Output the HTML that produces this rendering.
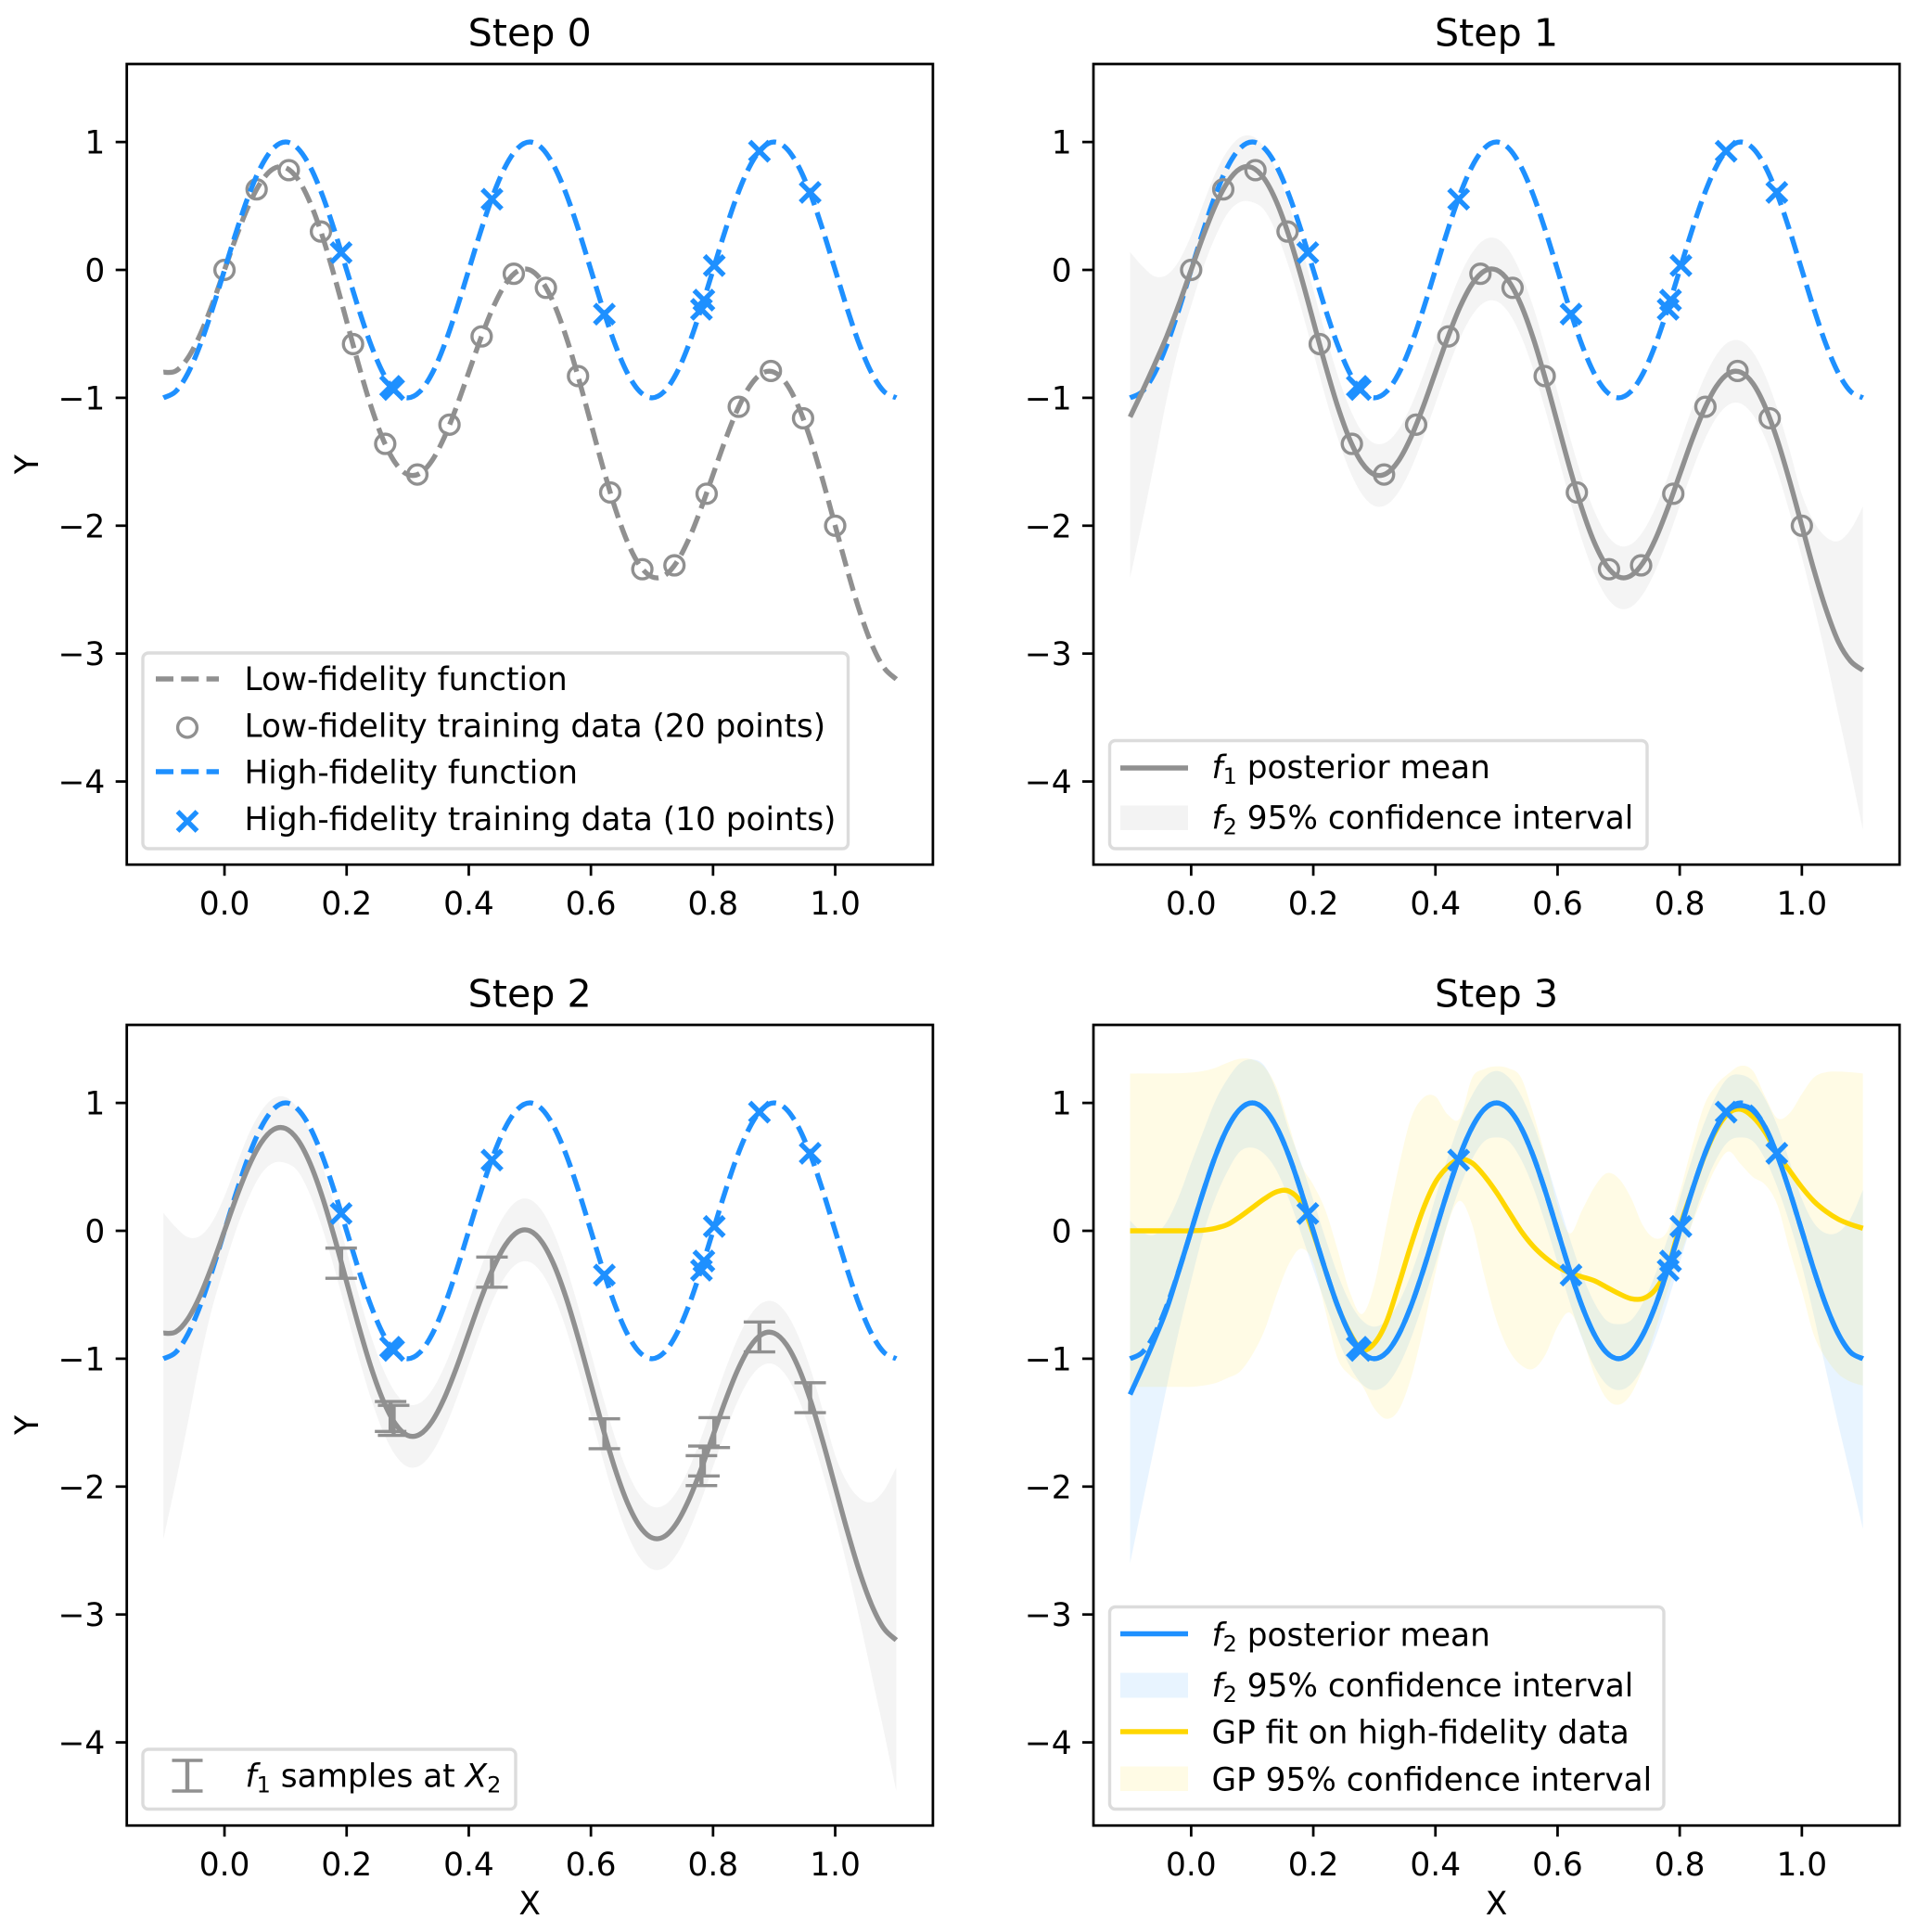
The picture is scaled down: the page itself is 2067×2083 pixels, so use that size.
<!DOCTYPE html>
<html lang="en">
<head>
<meta charset="utf-8">
<title>Multi-fidelity GP steps</title>
<style>
html,body{margin:0;padding:0;background:#fff;}
svg{display:block;}
text{font-family:"DejaVu Sans","Liberation Sans",sans-serif;fill:#000;}
.tick{font-size:34.4px;}
.title{font-size:41.2px;text-anchor:middle;}
.axis{font-size:34.4px;}
.leg{font-size:34.3px;}
.leg-box{fill:#fff;fill-opacity:.8;stroke:#dcdcdc;stroke-width:3.4;}
.it{font-style:italic;}
.sub{font-size:24px;}
</style>
</head>
<body>
<svg id="chart" xmlns="http://www.w3.org/2000/svg" width="2067" height="2083" viewBox="0 0 2067 2083">
  <rect width="2067" height="2083" fill="#fff"/>
  <g id="marks"></g>
  <g id="axes"></g>

  <text class="title" x="571.2" y="49.5">Step 0</text>
  <text class="title" x="1613.5" y="49.5">Step 1</text>
  <text class="title" x="571.2" y="1085.3">Step 2</text>
  <text class="title" x="1613.5" y="1085.3">Step 3</text>

  <text class="axis" transform="translate(41 500.6) rotate(-90)" text-anchor="middle">Y</text>
  <text class="axis" transform="translate(41 1536.4) rotate(-90)" text-anchor="middle">Y</text>
  <text class="axis" x="571.2" y="2064" text-anchor="middle">X</text>
  <text class="axis" x="1613.5" y="2064" text-anchor="middle">X</text>

  <g>
    <rect class="leg-box" x="154" y="704" width="760.5" height="211" rx="6"/>
    <line x1="168" x2="236" y1="732" y2="732" stroke="#909090" stroke-width="5.4" stroke-dasharray="19 8.3"/>
    <circle cx="202" cy="784.5" r="10.4" fill="none" stroke="#909090" stroke-width="3.4"/>
    <line x1="168" x2="236" y1="832" y2="832" stroke="#1e90ff" stroke-width="5.4" stroke-dasharray="19 8.3"/>
    <path d="M191.5 875L212.5 896M191.5 896L212.5 875" fill="none" stroke="#1e90ff" stroke-width="5.4"/>
    <text class="leg" x="263.5" y="744">Low-fidelity function</text>
    <text class="leg" x="263.5" y="794.5">Low-fidelity training data (20 points)</text>
    <text class="leg" x="263.5" y="844.5">High-fidelity function</text>
    <text class="leg" x="263.5" y="895">High-fidelity training data (10 points)</text>
  </g>

  <g>
    <rect class="leg-box" x="1196.5" y="798.5" width="579.5" height="116.5" rx="6"/>
    <line x1="1208" x2="1281" y1="828" y2="828" stroke="#909090" stroke-width="5.4"/>
    <rect x="1208" y="868.5" width="73" height="26.5" fill="#f3f3f3"/>
    <text class="leg" x="1306.5" y="839"><tspan class="it">f</tspan><tspan class="sub" dy="6">1</tspan><tspan dy="-6"> posterior mean</tspan></text>
    <text class="leg" x="1306.5" y="893.5"><tspan class="it">f</tspan><tspan class="sub" dy="6">2</tspan><tspan dy="-6"> 95% confidence interval</tspan></text>
  </g>

  <g>
    <rect class="leg-box" x="154" y="1886" width="402" height="64.5" rx="6"/>
    <path d="M185.5 1898H218.5M185.5 1931H218.5" stroke="#909090" stroke-width="3.4" fill="none"/>
    <line x1="202" x2="202" y1="1898" y2="1931" stroke="#909090" stroke-width="4.4"/>
    <text class="leg" x="264.5" y="1926.5"><tspan class="it">f</tspan><tspan class="sub" dy="6">1</tspan><tspan dy="-6"> samples at </tspan><tspan class="it">X</tspan><tspan class="sub" dy="6">2</tspan></text>
  </g>

  <g>
    <rect class="leg-box" x="1196.5" y="1732.5" width="597.5" height="218" rx="6"/>
    <line x1="1208" x2="1281" y1="1761.5" y2="1761.5" stroke="#1e90ff" stroke-width="5.4"/>
    <rect x="1208" y="1803.5" width="73" height="27" fill="#e8f4ff"/>
    <line x1="1208" x2="1281" y1="1867" y2="1867" stroke="#ffd700" stroke-width="5.4"/>
    <rect x="1208" y="1904.5" width="73" height="26.5" fill="#fffbe5"/>
    <text class="leg" x="1306.5" y="1774.5"><tspan class="it">f</tspan><tspan class="sub" dy="6">2</tspan><tspan dy="-6"> posterior mean</tspan></text>
    <text class="leg" x="1306.5" y="1829"><tspan class="it">f</tspan><tspan class="sub" dy="6">2</tspan><tspan dy="-6"> 95% confidence interval</tspan></text>
    <text class="leg" x="1306.5" y="1879.5">GP fit on high-fidelity data</text>
    <text class="leg" x="1306.5" y="1930.5">GP 95% confidence interval</text>
  </g>
</svg>

<script>
const xTicks = [0, 0.2, 0.4, 0.6, 0.8, 1.0];
const xTickLabels = ["0.0", "0.2", "0.4", "0.6", "0.8", "1.0"];
const yTicks = [1, 0, -1, -2, -3, -4];
const yTickLabels = ["1", "0", "\u22121", "\u22122", "\u22123", "\u22124"];

const gridX = [-0.10,-0.08,-0.06,-0.04,-0.02,0,0.02,0.04,0.06,0.08,0.10,0.12,0.14,0.16,0.18,0.20,0.22,0.24,0.26,0.28,0.30,0.32,0.34,0.36,0.38,0.40,0.42,0.44,0.46,0.48,0.50,0.52,0.54,0.56,0.58,0.60,0.62,0.64,0.66,0.68,0.70,0.72,0.74,0.76,0.78,0.80,0.82,0.84,0.86,0.88,0.90,0.92,0.94,0.96,0.98,1.00,1.02,1.04,1.06,1.08,1.10];

const highFidelity = [-1,-0.951,-0.809,-0.588,-0.309,0,0.309,0.588,0.809,0.951,1,0.951,0.809,0.588,0.309,0,-0.309,-0.588,-0.809,-0.951,-1,-0.951,-0.809,-0.588,-0.309,0,0.309,0.588,0.809,0.951,1,0.951,0.809,0.588,0.309,0,-0.309,-0.588,-0.809,-0.951,-1,-0.951,-0.809,-0.588,-0.309,0,0.309,0.588,0.809,0.951,1,0.951,0.809,0.588,0.309,0,-0.309,-0.588,-0.809,-0.951,-1];

const lowFidelity = [-0.8,-0.791,-0.689,-0.508,-0.269,0,0.269,0.508,0.689,0.791,0.8,0.711,0.529,0.268,-0.051,-0.4,-0.749,-1.068,-1.329,-1.511,-1.6,-1.591,-1.489,-1.308,-1.069,-0.8,-0.531,-0.292,-0.111,-0.009,0,-0.089,-0.271,-0.532,-0.851,-1.2,-1.549,-1.868,-2.129,-2.311,-2.4,-2.391,-2.289,-2.108,-1.869,-1.6,-1.331,-1.092,-0.911,-0.809,-0.8,-0.889,-1.071,-1.332,-1.651,-2,-2.349,-2.668,-2.929,-3.111,-3.2];

const step1Mean = [-1.15,-0.95,-0.74,-0.52,-0.27,0,0.269,0.508,0.689,0.791,0.8,0.711,0.529,0.268,-0.051,-0.4,-0.749,-1.068,-1.329,-1.511,-1.6,-1.591,-1.489,-1.308,-1.069,-0.8,-0.531,-0.292,-0.111,-0.009,0,-0.089,-0.271,-0.532,-0.851,-1.2,-1.549,-1.868,-2.129,-2.311,-2.4,-2.391,-2.289,-2.108,-1.869,-1.6,-1.331,-1.092,-0.911,-0.809,-0.8,-0.889,-1.071,-1.332,-1.651,-2,-2.35,-2.66,-2.91,-3.06,-3.13];

const lowBandUpper = [0.14,0.03,-0.05,-0.04,0.07,0.27,0.52,0.76,0.935,1.035,1.045,0.956,0.774,0.513,0.194,-0.155,-0.504,-0.823,-1.084,-1.266,-1.355,-1.346,-1.244,-1.063,-0.824,-0.555,-0.286,-0.047,0.134,0.236,0.245,0.156,-0.026,-0.287,-0.606,-0.955,-1.304,-1.623,-1.884,-2.066,-2.155,-2.146,-2.044,-1.863,-1.624,-1.355,-1.086,-0.847,-0.666,-0.564,-0.555,-0.644,-0.826,-1.087,-1.41,-1.755,-1.97,-2.09,-2.12,-2.03,-1.85];

const lowBandLower = [-2.41,-1.97,-1.5,-1.01,-0.6,-0.28,0.02,0.263,0.444,0.53,0.53,0.466,0.284,0.023,-0.296,-0.645,-0.994,-1.313,-1.574,-1.756,-1.845,-1.836,-1.734,-1.553,-1.314,-1.045,-0.776,-0.537,-0.356,-0.254,-0.245,-0.334,-0.516,-0.777,-1.096,-1.445,-1.794,-2.113,-2.374,-2.556,-2.645,-2.636,-2.534,-2.353,-2.114,-1.845,-1.576,-1.337,-1.156,-1.054,-1.045,-1.134,-1.316,-1.577,-1.896,-2.245,-2.63,-3.04,-3.48,-3.92,-4.38];

const f2Mean = [-1.28,-1.07,-0.85,-0.61,-0.31,0,0.309,0.588,0.809,0.951,1,0.951,0.809,0.588,0.309,0,-0.309,-0.588,-0.809,-0.951,-1,-0.951,-0.809,-0.588,-0.309,0,0.309,0.588,0.809,0.951,1,0.951,0.809,0.588,0.309,0,-0.309,-0.588,-0.809,-0.951,-1,-0.951,-0.809,-0.588,-0.309,0,0.309,0.588,0.809,0.945,0.98,0.94,0.809,0.588,0.309,0,-0.309,-0.588,-0.809,-0.951,-1];

const f2BandUpper = [0.08,-0.01,-0.03,0.07,0.27,0.53,0.78,1.02,1.19,1.31,1.34,1.29,1.09,0.79,0.53,0.24,-0.06,-0.34,-0.56,-0.7,-0.75,-0.7,-0.56,-0.34,-0.06,0.26,0.57,0.85,1.06,1.2,1.25,1.2,1.06,0.84,0.56,0.25,-0.06,-0.34,-0.56,-0.7,-0.73,-0.7,-0.56,-0.34,-0.06,0.25,0.56,0.84,1.06,1.2,1.22,1.17,1.03,0.82,0.54,0.25,0.06,-0.02,-0.01,0.1,0.32];

const f2BandLower = [-2.6,-2.14,-1.68,-1.22,-0.78,-0.39,-0.02,0.26,0.47,0.62,0.65,0.6,0.47,0.25,-0.02,-0.3,-0.57,-0.84,-1.06,-1.2,-1.245,-1.2,-1.06,-0.84,-0.56,-0.26,0.06,0.34,0.56,0.7,0.73,0.7,0.56,0.34,0.06,-0.25,-0.56,-0.84,-1.06,-1.2,-1.245,-1.2,-1.06,-0.84,-0.56,-0.25,0.06,0.34,0.56,0.7,0.73,0.7,0.56,0.34,0.06,-0.27,-0.67,-1.1,-1.52,-1.92,-2.33];

const gpMean = [0,0,0,0,0,0,0.005,0.02,0.05,0.11,0.18,0.25,0.305,0.31,0.22,-0.02,-0.31,-0.59,-0.8,-0.93,-0.88,-0.71,-0.42,-0.11,0.17,0.38,0.5,0.56,0.53,0.43,0.3,0.15,0,-0.12,-0.21,-0.28,-0.33,-0.36,-0.39,-0.44,-0.49,-0.53,-0.53,-0.46,-0.29,0.03,0.31,0.58,0.79,0.92,0.95,0.89,0.77,0.6,0.47,0.34,0.23,0.15,0.09,0.05,0.02];

const gpBandUpper = [1.229,1.23,1.23,1.23,1.232,1.237,1.25,1.275,1.315,1.345,1.34,1.28,1.12,0.83,0.52,0.36,0.16,-0.15,-0.48,-0.65,-0.42,0.05,0.5,0.88,1.04,1.05,0.91,0.88,1.195,1.265,1.286,1.27,1.2,0.92,0.58,0.2,-0.02,0.16,0.34,0.45,0.41,0.26,0.04,-0.06,0,0.3,0.66,0.98,1.14,1.23,1.29,1.25,1.05,0.88,0.92,1.07,1.2,1.24,1.245,1.24,1.23];

const gpBandLower = [-1.22,-1.22,-1.22,-1.22,-1.22,-1.22,-1.21,-1.19,-1.15,-1.1,-0.97,-0.78,-0.5,-0.26,-0.14,-0.25,-0.63,-1.0,-1.13,-1.21,-1.39,-1.47,-1.4,-1.15,-0.77,-0.33,0.05,0.234,0.05,-0.35,-0.7,-0.93,-1.05,-1.08,-0.97,-0.75,-0.64,-0.83,-1.12,-1.31,-1.36,-1.28,-1.07,-0.78,-0.47,-0.2,0.05,0.29,0.5,0.62,0.52,0.42,0.36,0.2,-0.15,-0.47,-0.82,-1.0,-1.12,-1.18,-1.21];

const lowDataX = [0,0.0526,0.1053,0.1579,0.2105,0.2632,0.3158,0.3684,0.4211,0.4737,0.5263,0.5789,0.6316,0.6842,0.7368,0.7895,0.8421,0.8947,0.9474,1];
const lowDataY = [0,0.63,0.78,0.3,-0.58,-1.36,-1.6,-1.21,-0.52,-0.03,-0.14,-0.83,-1.74,-2.34,-2.31,-1.75,-1.07,-0.79,-1.16,-2];

const highDataX = [0.191,0.272,0.277,0.438,0.622,0.781,0.785,0.802,0.876,0.959];
const highDataY = [0.135,-0.91,-0.935,0.553,-0.346,-0.308,-0.236,0.034,0.928,0.606];

const sampleY = [-0.253,-1.452,-1.482,-0.323,-1.587,-1.875,-1.8,-1.578,-0.83,-1.305];
const sampleErr = [0.118,0.117,0.117,0.118,0.117,0.117,0.117,0.117,0.117,0.117];

const NS = "http://www.w3.org/2000/svg";
const marksRoot = document.getElementById("marks");
const axesRoot = document.getElementById("axes");
const GRAY = "#909090", BLUE = "#1e90ff", GOLD = "#ffd700";

const panelW = 869.2, panelH = 863.2;
const panels = [
  {left:136.7, top:69,   key:"step-0"},
  {left:1179,  top:69,   key:"step-1"},
  {left:136.7, top:1105, key:"step-2"},
  {left:1179,  top:1105, key:"step-3"}
];
function xScale(p, v) { return p.left + (v + 0.16) / 1.32 * panelW; }
function yScale(p, v) { return p.top + (1.61 - v) / 6.26 * panelH; }

function make(tag, attrs, parent) {
  const node = document.createElementNS(NS, tag);
  for (const k in attrs) node.setAttribute(k, attrs[k]);
  parent.appendChild(node);
  return node;
}
function curveTo(pts) {
  let d = "";
  for (let i = 0; i < pts.length - 1; i++) {
    const p0 = pts[Math.max(i - 1, 0)], p1 = pts[i], p2 = pts[i + 1], p3 = pts[Math.min(i + 2, pts.length - 1)];
    const c1x = p1[0] + (p2[0] - p0[0]) / 6, c1y = p1[1] + (p2[1] - p0[1]) / 6;
    const c2x = p2[0] - (p3[0] - p1[0]) / 6, c2y = p2[1] - (p3[1] - p1[1]) / 6;
    d += "C" + c1x.toFixed(2) + " " + c1y.toFixed(2) + " " + c2x.toFixed(2) + " " + c2y.toFixed(2) + " " + p2[0].toFixed(2) + " " + p2[1].toFixed(2);
  }
  return d;
}
function toPts(p, xs, ys) { return xs.map((x, i) => [xScale(p, x), yScale(p, ys[i])]); }

function drawLine(p, g, xs, ys, color, dashed, name) {
  const pts = toPts(p, xs, ys);
  const line = make("path", {d: "M" + pts[0][0].toFixed(2) + " " + pts[0][1].toFixed(2) + curveTo(pts), fill: "none", stroke: color, "stroke-width": 5.4, "stroke-dasharray": dashed ? "19 8.3" : "none", "stroke-linejoin": "round"}, g);
  
  
}
function drawBand(p, g, xs, upper, lower, color, name) {
  const up = toPts(p, xs, upper);
  const lo = toPts(p, xs, lower).reverse();
  const d = "M" + up[0][0].toFixed(2) + " " + up[0][1].toFixed(2) + curveTo(up) + "L" + lo[0][0].toFixed(2) + " " + lo[0][1].toFixed(2) + curveTo(lo) + "Z";
  const band = make("path", {d: d, fill: color, "fill-opacity": 0.1, stroke: "none"}, g);
  
  
}
function drawCircles(p, g, xs, ys) {
  xs.forEach((x, i) => {
    const c = make("circle", {cx: xScale(p, x), cy: yScale(p, ys[i]), r: 10.4, fill: "none", stroke: GRAY, "stroke-width": 3.4}, g);
    
    
  });
}
function drawCrosses(p, g, xs, ys) {
  const r = 10.5;
  xs.forEach((x, i) => {
    const cx = xScale(p, x), cy = yScale(p, ys[i]);
    const m = make("path", {d: "M" + (cx - r) + " " + (cy - r) + "L" + (cx + r) + " " + (cy + r) + "M" + (cx - r) + " " + (cy + r) + "L" + (cx + r) + " " + (cy - r), fill: "none", stroke: BLUE, "stroke-width": 5.4}, g);
    
    
  });
}
function drawErrorBars(p, g, xs, ys, errs) {
  xs.forEach((x, i) => {
    const cx = xScale(p, x), t = yScale(p, ys[i] + errs[i]), b = yScale(p, ys[i] - errs[i]);
    const bar = make("path", {d: "M" + cx + " " + t + "L" + cx + " " + b, fill: "none", stroke: GRAY, "stroke-width": 4.4}, g);
    
    
    const caps = make("path", {d: "M" + (cx - 17) + " " + t + "H" + (cx + 17) + "M" + (cx - 17) + " " + b + "H" + (cx + 17), fill: "none", stroke: GRAY, "stroke-width": 3.4}, g);
    
    
  });
}
function drawAxes(p) {
  const g = make("g", {}, axesRoot);
  
  
  const frame = make("rect", {x: p.left, y: p.top, width: panelW, height: panelH, fill: "none", stroke: "#000", "stroke-width": 2.75}, g);
  
  
  const bottom = p.top + panelH;
  xTicks.forEach((v, i) => {
    const x = xScale(p, v);
    const t = make("line", {x1: x, x2: x, y1: bottom, y2: bottom + 12, stroke: "#000", "stroke-width": 2.75}, g);
    
    
    const l = make("text", {x: x, y: bottom + 54, "text-anchor": "middle", class: "tick"}, g);
    l.textContent = xTickLabels[i];
    
    
  });
  yTicks.forEach((v, i) => {
    const y = yScale(p, v);
    const t = make("line", {x1: p.left - 12, x2: p.left, y1: y, y2: y, stroke: "#000", "stroke-width": 2.75}, g);
    
    
    const l = make("text", {x: p.left - 23.4, y: y + 12.5, "text-anchor": "end", class: "tick"}, g);
    l.textContent = yTickLabels[i];
    
    
  });
}

function panelGroup(p) {
  const g = make("g", {}, marksRoot);
  
  
  return g;
}

// Step 0
const g0 = panelGroup(panels[0]);
drawLine(panels[0], g0, gridX, lowFidelity, GRAY, true, "low-fidelity-function");
drawCircles(panels[0], g0, lowDataX, lowDataY);
drawLine(panels[0], g0, gridX, highFidelity, BLUE, true, "high-fidelity-function");
drawCrosses(panels[0], g0, highDataX, highDataY);

// Step 1
const g1 = panelGroup(panels[1]);
drawBand(panels[1], g1, gridX, lowBandUpper, lowBandLower, GRAY, "f1-confidence-band");
drawLine(panels[1], g1, gridX, highFidelity, BLUE, true, "high-fidelity-function");
drawLine(panels[1], g1, gridX, step1Mean, GRAY, false, "f1-posterior-mean");
drawCircles(panels[1], g1, lowDataX, lowDataY);
drawCrosses(panels[1], g1, highDataX, highDataY);

// Step 2
const g2 = panelGroup(panels[2]);
drawBand(panels[2], g2, gridX, lowBandUpper, lowBandLower, GRAY, "f1-confidence-band");
drawLine(panels[2], g2, gridX, highFidelity, BLUE, true, "high-fidelity-function");
drawLine(panels[2], g2, gridX, lowFidelity, GRAY, false, "f1-posterior-mean");
drawErrorBars(panels[2], g2, highDataX, sampleY, sampleErr);
drawCrosses(panels[2], g2, highDataX, highDataY);

// Step 3
const g3 = panelGroup(panels[3]);
drawBand(panels[3], g3, gridX, f2BandUpper, f2BandLower, BLUE, "f2-confidence-band");
drawBand(panels[3], g3, gridX, gpBandUpper, gpBandLower, GOLD, "gp-confidence-band");
drawLine(panels[3], g3, gridX, gpMean, GOLD, false, "gp-fit-mean");
drawLine(panels[3], g3, gridX, highFidelity, BLUE, true, "high-fidelity-function");
drawLine(panels[3], g3, gridX, f2Mean, BLUE, false, "f2-posterior-mean");
drawCrosses(panels[3], g3, highDataX, highDataY);

panels.forEach(drawAxes);
</script>
</body>
</html>
